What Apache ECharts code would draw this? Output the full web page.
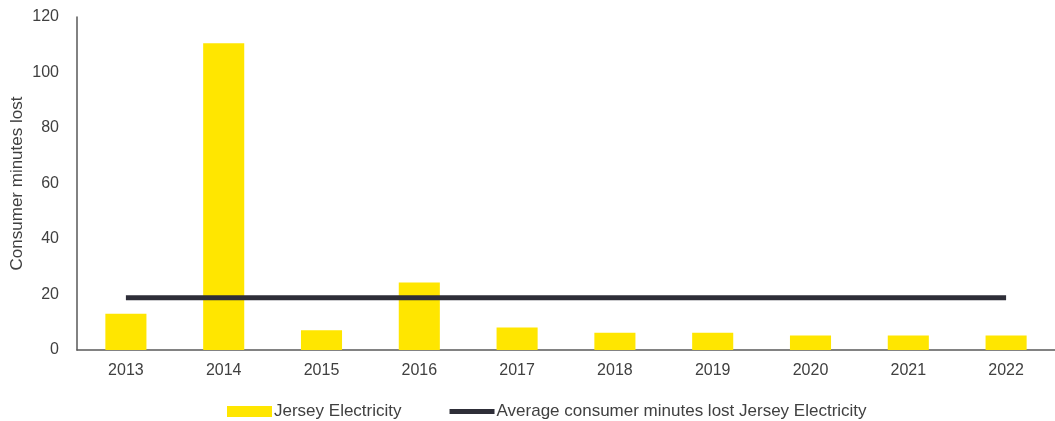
<!DOCTYPE html>
<html>
<head>
<meta charset="utf-8">
<script src="https://cdn.jsdelivr.net/npm/echarts@6/dist/echarts.min.js"></script>
<style>
  html, body { margin: 0; padding: 0; background: #ffffff; }
  #chart { width: 1055px; height: 421px; }
</style>
</head>
<body>
<div id="chart"></div>
<script>
const years = ['2013', '2014', '2015', '2016', '2017', '2018', '2019', '2020', '2021', '2022'];
const minutesLost = [13.1, 110.5, 7.1, 24.3, 8.1, 6.2, 6.2, 5.2, 5.2, 5.2];
const averageLost = [18.8, 18.8, 18.8, 18.8, 18.8, 18.8, 18.8, 18.8, 18.8, 18.8];

const textColor = '#404040';
const font = 'Liberation Sans, Arial, sans-serif';

const chart = echarts.init(document.getElementById('chart'), null, { renderer: 'canvas' });
chart.setOption({
  animation: false,
  textStyle: { fontFamily: font },
  grid: { left: 77, right: 0, top: 17, bottom: 71, outerBoundsMode: 'none' },
  legend: {
    left: 222,
    top: 398,
    itemWidth: 45,
    itemHeight: 11,
    itemGap: 48,
    textStyle: { color: textColor, fontSize: 17, fontFamily: font, padding: [0, 0, 0, -3] },
    data: [
      { name: 'Jersey Electricity', icon: 'rect' },
      {
        name: 'Average consumer minutes lost Jersey Electricity',
        // thin bar centred in the icon box (degenerate points keep the box height)
        icon: 'path://M0,0L0,0M0,11L0,11M0,3L45,3L45,8L0,8Z'
      }
    ]
  },
  xAxis: {
    type: 'category',
    data: years,
    axisLine: { lineStyle: { color: '#595959', width: 1.5 } },
    axisTick: { show: false },
    axisLabel: { color: textColor, fontSize: 16, margin: 13 }
  },
  yAxis: {
    type: 'value',
    min: 0,
    max: 120,
    interval: 20,
    name: 'Consumer minutes lost',
    nameLocation: 'middle',
    nameGap: 51,
    nameMoveOverlap: false,
    nameTextStyle: { color: textColor, fontSize: 17 },
    axisLine: { show: true, lineStyle: { color: '#595959', width: 1.5 } },
    axisTick: { show: false },
    splitLine: { show: false },
    axisLabel: { color: textColor, fontSize: 16, margin: 18 }
  },
  series: [
    {
      name: 'Jersey Electricity',
      type: 'bar',
      data: minutesLost,
      barWidth: '42%',
      itemStyle: { color: '#FFE600' }
    },
    {
      name: 'Average consumer minutes lost Jersey Electricity',
      type: 'line',
      data: averageLost,
      symbol: 'none',
      lineStyle: { color: '#2E2E38', width: 5 },
      itemStyle: { color: '#2E2E38' }
    }
  ]
});
</script>
</body>
</html>
